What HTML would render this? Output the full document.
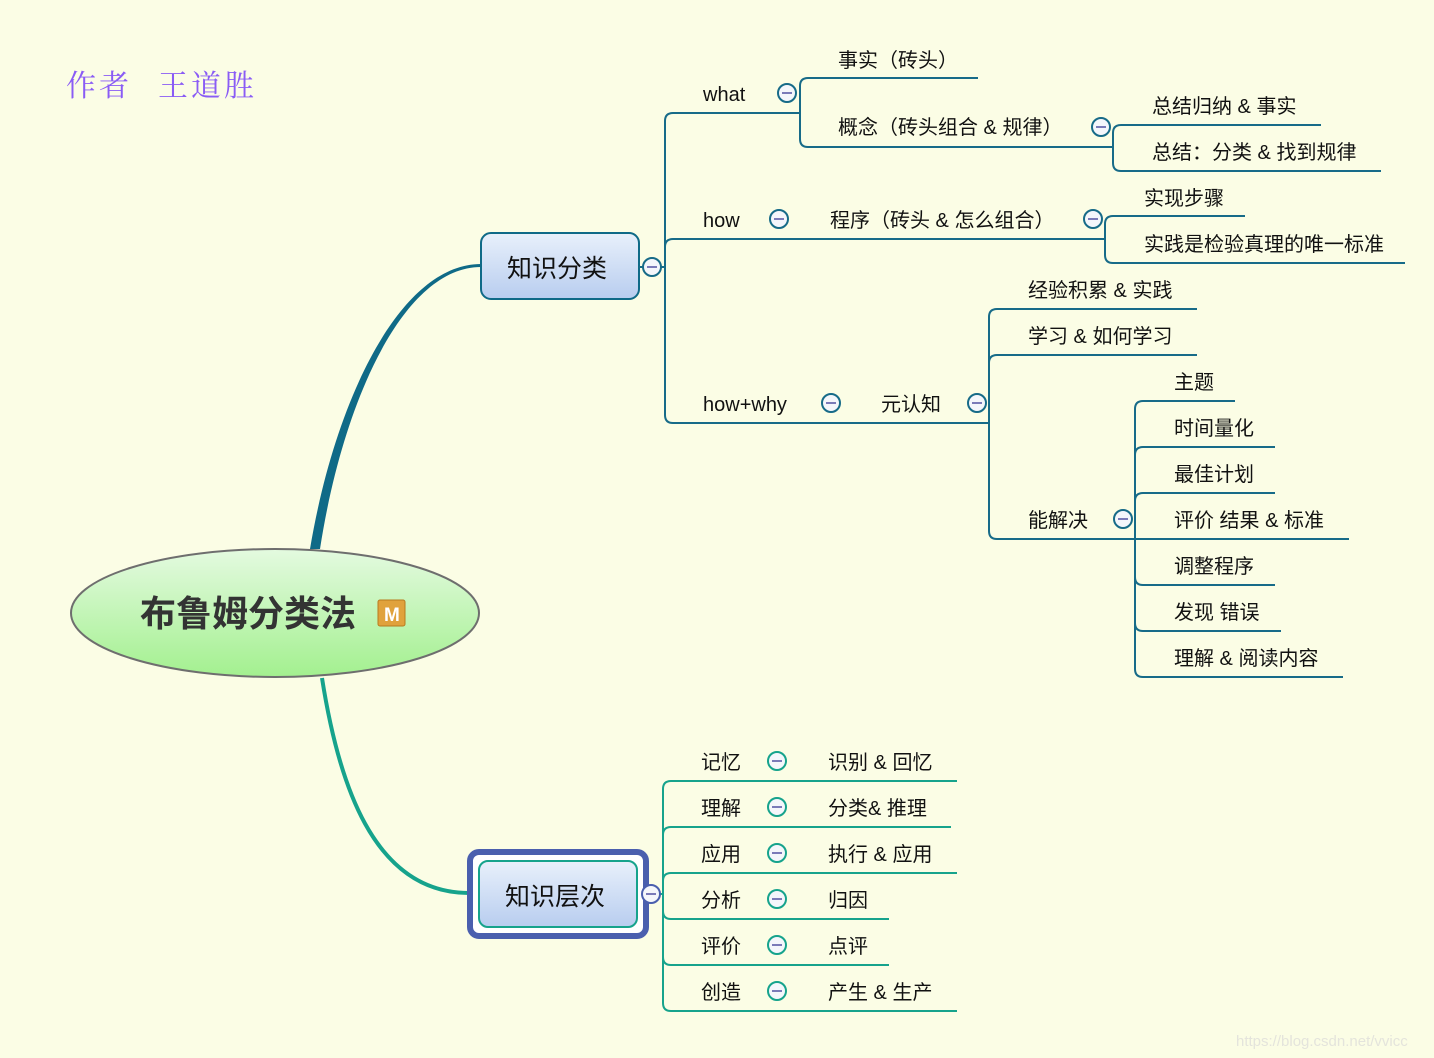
<!DOCTYPE html>
<html><head><meta charset="utf-8"><style>
html,body{margin:0;padding:0;background:#fbfde5;}
svg{display:block}
text{font-family:"Liberation Sans","Noto Sans CJK SC",sans-serif;font-size:20px;fill:#111;}
</style></head><body>
<svg width="1434" height="1058" viewBox="0 0 1434 1058" xmlns="http://www.w3.org/2000/svg">
<defs>
<linearGradient id="eg" x1="0" y1="0" x2="0" y2="1"><stop offset="0" stop-color="#e4fae0"/><stop offset="1" stop-color="#a3f08f"/></linearGradient>
<linearGradient id="bg" x1="0" y1="0" x2="0" y2="1"><stop offset="0" stop-color="#e8f0fb"/><stop offset="1" stop-color="#b8cdef"/></linearGradient>
</defs>
<rect width="1434" height="1058" fill="#fbfde5"/>
<text x="66" y="96" style="font-family:'Liberation Serif','Noto Serif CJK SC',serif;font-size:30px;fill:#8a5cf5;letter-spacing:3px">作者</text>
<text x="158" y="96" style="font-family:'Liberation Serif','Noto Serif CJK SC',serif;font-size:30px;fill:#8a5cf5;letter-spacing:3px">王道胜</text>

<path d="M310,549 C335,400 400,264 481,264 L481,267 C404,267 343,400 320,549 Z" fill="#0f6a87"/>
<path d="M322,678 C338,780 372,893 469,893" fill="none" stroke="#16a38c" stroke-width="4"/>

<ellipse cx="275" cy="613" rx="204" ry="64" fill="url(#eg)" stroke="#6e6e6e" stroke-width="2"/>
<text x="140" y="626" style="font-size:36px;font-weight:bold;fill:#333">布鲁姆分类法</text>
<rect x="378" y="600" width="27" height="26" rx="2" fill="#e0a23c" stroke="#b87a1e"/>
<text x="384" y="621" style="font-size:19px;font-weight:bold;fill:#fff">M</text>

<rect x="481" y="233" width="158" height="66" rx="10" fill="url(#bg)" stroke="#0f6a87" stroke-width="2"/>
<text x="507" y="277" style="font-size:25px">知识分类</text>

<rect x="470" y="852" width="176" height="84" rx="9" fill="#fff" stroke="#4a5fae" stroke-width="6"/>
<rect x="479" y="861" width="158" height="66" rx="9" fill="url(#bg)" stroke="#16a38c" stroke-width="2"/>
<text x="505" y="905" style="font-size:25px">知识层次</text>

<g fill="none" stroke="#176b88" stroke-width="2">
<path d="M639,267 H665"/>
<path d="M665,267 V121 Q665,113 673,113 H800"/>
<path d="M665,267 V247 Q665,239 673,239 H1105"/>
<path d="M665,267 V415 Q665,423 673,423 H989"/>
<path d="M800,113 V86 Q800,78 808,78 H978"/>
<path d="M800,113 V139 Q800,147 808,147 H1113"/>
<path d="M1113,147 V133 Q1113,125 1121,125 H1321"/>
<path d="M1113,147 V163 Q1113,171 1121,171 H1381"/>
<path d="M1105,239 V224 Q1105,216 1113,216 H1245"/>
<path d="M1105,239 V255 Q1105,263 1113,263 H1405"/>
<path d="M989,423 V317 Q989,309 997,309 H1197"/>
<path d="M989,423 V363 Q989,355 997,355 H1197"/>
<path d="M989,423 V531 Q989,539 997,539 H1135"/>
<path d="M1135,539 V409 Q1135,401 1143,401 H1235"/>
<path d="M1135,539 V455 Q1135,447 1143,447 H1275"/>
<path d="M1135,539 V501 Q1135,493 1143,493 H1275"/>
<path d="M1135,539 H1349"/>
<path d="M1135,539 V577 Q1135,585 1143,585 H1275"/>
<path d="M1135,539 V623 Q1135,631 1143,631 H1281"/>
<path d="M1135,539 V669 Q1135,677 1143,677 H1343"/>
</g>

<g fill="none" stroke="#16a38c" stroke-width="2">
<path d="M646,894 H663"/>
<path d="M663,894 V789 Q663,781 671,781 H957"/>
<path d="M663,894 V835 Q663,827 671,827 H951"/>
<path d="M663,894 V881 Q663,873 671,873 H957"/>
<path d="M663,894 V911 Q663,919 671,919 H889"/>
<path d="M663,894 V957 Q663,965 671,965 H889"/>
<path d="M663,894 V1003 Q663,1011 671,1011 H957"/>
</g>

<g fill="#f4f6fb" stroke="#176b88" stroke-width="2">
<circle cx="652" cy="267" r="9"/>
<circle cx="787" cy="93" r="9"/>
<circle cx="1101" cy="127" r="9"/>
<circle cx="779" cy="219" r="9"/>
<circle cx="1093" cy="219" r="9"/>
<circle cx="831" cy="403" r="9"/>
<circle cx="977" cy="403" r="9"/>
<circle cx="1123" cy="519" r="9"/>
</g>
<g fill="#f4f6fb" stroke="#16a38c" stroke-width="2">
<circle cx="651" cy="894" r="9" stroke="#4a5fae"/>
<circle cx="777" cy="761" r="9"/>
<circle cx="777" cy="807" r="9"/>
<circle cx="777" cy="853" r="9"/>
<circle cx="777" cy="899" r="9"/>
<circle cx="777" cy="945" r="9"/>
<circle cx="777" cy="991" r="9"/>
</g>
<g stroke="#7a7ab8" stroke-width="2">
<path d="M647,267 h10 M782,93 h10 M1096,127 h10 M774,219 h10 M1088,219 h10 M826,403 h10 M972,403 h10 M1118,519 h10"/>
<path d="M646,894 h10 M772,761 h10 M772,807 h10 M772,853 h10 M772,899 h10 M772,945 h10 M772,991 h10"/>
</g>

<text x="703" y="101">what</text>
<text x="838" y="67">事实（砖头）</text>
<text x="838" y="134">概念（砖头组合 &amp; 规律）</text>
<text x="1152" y="113">总结归纳 &amp; 事实</text>
<text x="1152" y="159">总结：分类 &amp; 找到规律</text>
<text x="703" y="227">how</text>
<text x="830" y="227">程序（砖头 &amp; 怎么组合）</text>
<text x="1144" y="205">实现步骤</text>
<text x="1144" y="251">实践是检验真理的唯一标准</text>
<text x="703" y="411">how+why</text>
<text x="881" y="411">元认知</text>
<text x="1028" y="297">经验积累 &amp; 实践</text>
<text x="1028" y="343">学习 &amp; 如何学习</text>
<text x="1028" y="527">能解决</text>
<text x="1174" y="389">主题</text>
<text x="1174" y="435">时间量化</text>
<text x="1174" y="481">最佳计划</text>
<text x="1174" y="527">评价 结果 &amp; 标准</text>
<text x="1174" y="573">调整程序</text>
<text x="1174" y="619">发现 错误</text>
<text x="1174" y="665">理解 &amp; 阅读内容</text>

<text x="701" y="769">记忆</text><text x="828" y="769">识别 &amp; 回忆</text>
<text x="701" y="815">理解</text><text x="828" y="815">分类&amp; 推理</text>
<text x="701" y="861">应用</text><text x="828" y="861">执行 &amp; 应用</text>
<text x="701" y="907">分析</text><text x="828" y="907">归因</text>
<text x="701" y="953">评价</text><text x="828" y="953">点评</text>
<text x="701" y="999">创造</text><text x="828" y="999">产生 &amp; 生产</text>

<text x="1236" y="1046" style="font-size:15px;fill:#e4e4dc">https://blog.csdn.net/vvicc</text>
</svg>
</body></html>
